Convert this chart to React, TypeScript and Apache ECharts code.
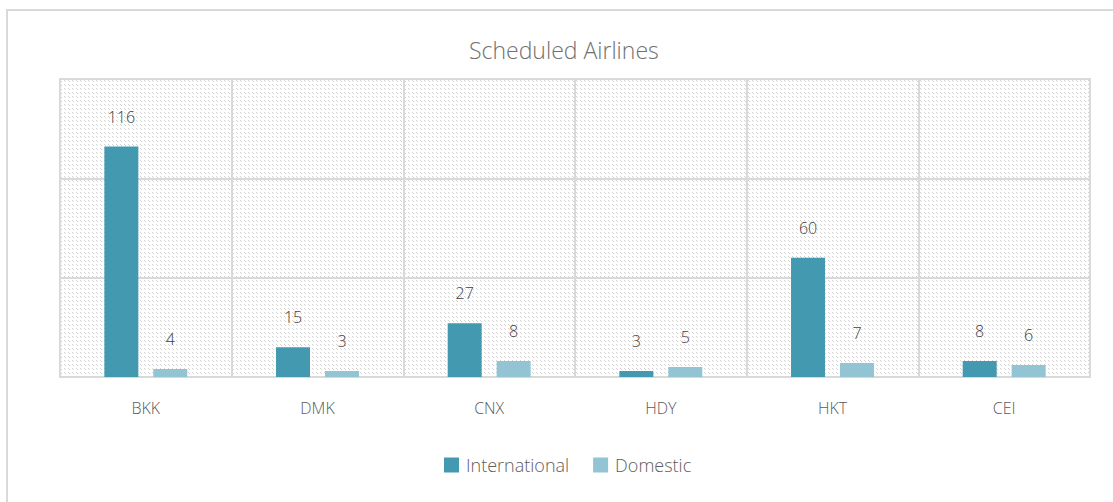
import React, { useEffect, useRef } from "react";
import * as echarts from "echarts";

const categories = ["BKK", "DMK", "CNX", "HDY", "HKT", "CEI"];
const international = [116, 15, 27, 3, 60, 8];
const domestic = [4, 3, 8, 5, 7, 6];
const seriesNames = ["International", "Domestic"];
const chartTitle = "Scheduled Airlines";

function makePattern(): HTMLCanvasElement {
  const c = document.createElement("canvas");
  c.width = 8;
  c.height = 8;
  const ctx = c.getContext("2d")!;
  ctx.fillStyle = "#ffffff";
  ctx.fillRect(0, 0, 8, 8);
  ctx.fillStyle = "#d2d2d2";
  for (let y = 0; y < 8; y++) {
    for (let x = 0; x < 8; x++) {
      const d = ((x - y) % 4 + 4) % 4;
      if (d === 0 && y % 4 < 2) ctx.fillRect(x, y, 1, 1);
    }
  }
  return c;
}

export default function App() {
  const ref = useRef<HTMLDivElement>(null);
  useEffect(() => {
    document.body.style.margin = "0";
    const chart = echarts.init(ref.current!, null, { renderer: "svg" });
    const font = "'Open Sans', 'Noto Sans', sans-serif";
    chart.setOption({
      animation: false,
      textStyle: { fontFamily: font },
      title: {
        text: chartTitle,
        left: 464,
        top: 33,
        textStyle: { fontSize: 23, fontWeight: 300, color: "#707070", fontFamily: font },
      },
      graphic: [
        {
          type: "rect",
          shape: { x: 7, y: 10, width: 1130, height: 520 },
          style: { fill: "none", stroke: "#d9d9d9", lineWidth: 2 },
          silent: true,
          z: -10,
        },
      ],
      legend: {
        bottom: 23,
        left: 439,
        itemWidth: 15,
        itemHeight: 15,
        itemGap: 24,
        icon: "rect",
        textStyle: { fontSize: 18, fontWeight: 300, color: "#606060", fontFamily: font, padding: [0, 0, 0, 2] },
        data: seriesNames,
      },
      grid: {
        left: 60,
        right: 23,
        top: 79,
        bottom: 125,
        show: true,
        borderColor: "#d9d9d9",
        borderWidth: 2,
        backgroundColor: { image: makePattern(), repeat: "repeat" },
      },
      xAxis: {
        type: "category",
        data: categories,
        axisLine: { show: true, lineStyle: { color: "#d9d9d9", width: 2 } },
        axisTick: { show: false },
        splitLine: { show: true, lineStyle: { color: "#d9d9d9", width: 2 } },
        axisLabel: { fontSize: 16, fontWeight: 300, color: "#595959", margin: 23, fontFamily: font },
      },
      yAxis: {
        type: "value",
        min: 0,
        max: 150,
        interval: 50,
        axisLabel: { show: false },
        axisLine: { show: false },
        axisTick: { show: false },
        splitLine: { show: true, lineStyle: { color: "#d9d9d9", width: 2 } },
      },
      series: [
        {
          name: seriesNames[0],
          type: "bar",
          data: international,
          barWidth: 34,
          barGap: "44%",
          itemStyle: { color: "#4299b0" },
          label: { show: true, position: "top", distance: 22, fontSize: 16, fontWeight: 300, color: "#404040", fontFamily: font },
        },
        {
          name: seriesNames[1],
          type: "bar",
          data: domestic,
          barWidth: 34,
          itemStyle: { color: "#92c4d4" },
          label: { show: true, position: "top", distance: 22, fontSize: 16, fontWeight: 300, color: "#404040", fontFamily: font },
        },
      ],
    });
    return () => chart.dispose();
  }, []);
  return <div ref={ref} style={{ position: "absolute", left: 0, top: 0, width: 1113, height: 502 }} />;
}
